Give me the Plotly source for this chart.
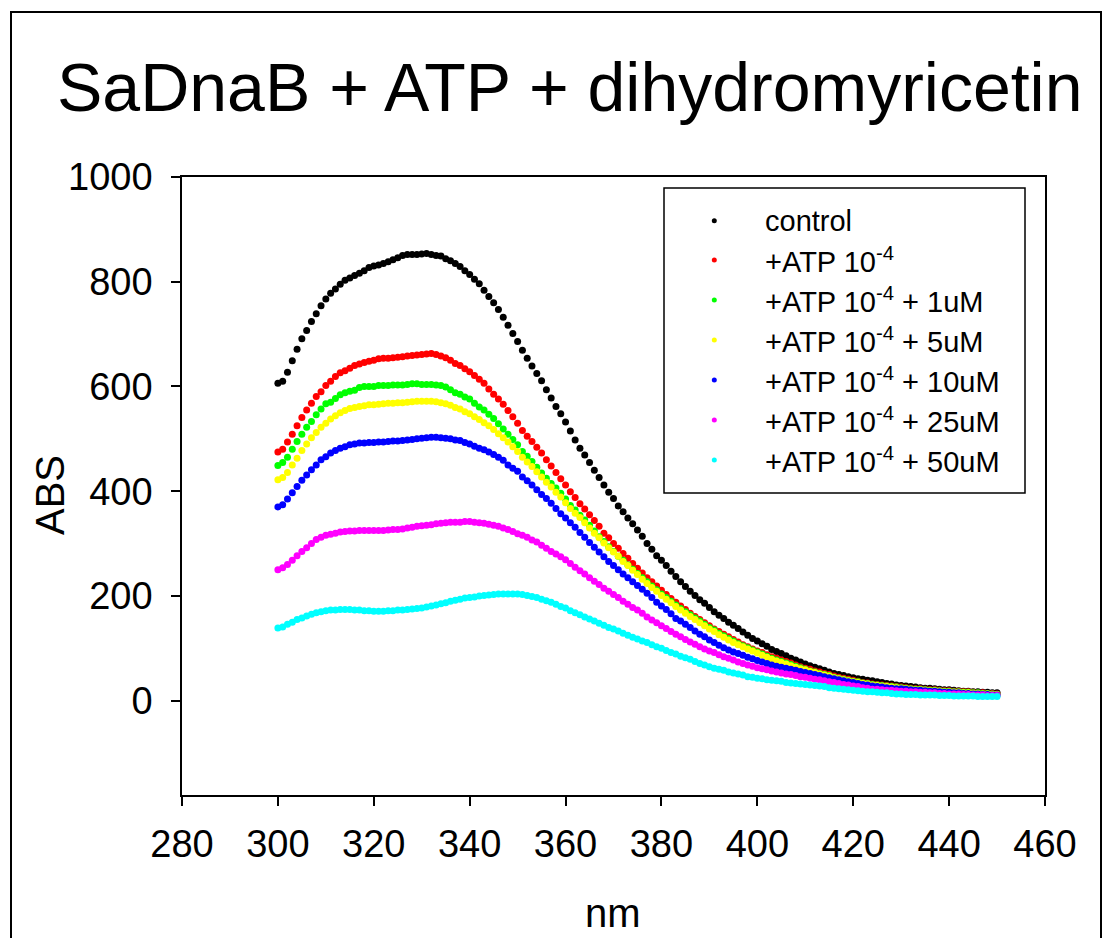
import plotly.graph_objects as go

# ---------------- data ----------------
wavelength = list(range(300, 451))

control = [
    606, 610, 627, 649, 671, 691, 707, 724, 739, 754,
    767, 778, 786, 795, 803, 807, 812, 816, 821, 827,
    830, 832, 835, 838, 842, 846, 850, 852, 852, 852,
    853, 854, 852, 850, 849, 844, 840, 835, 829, 821,
    814, 805, 796, 784, 772, 760, 747, 732, 717, 701,
    686, 669, 654, 639, 625, 611, 594, 578, 562, 548,
    532, 515, 498, 482, 469, 455, 440, 426, 412, 398,
    386, 372, 361, 349, 338, 326, 314, 300, 289, 277,
    268, 258, 247, 237, 227, 218, 209, 201, 193, 186,
    178, 170, 163, 157, 150, 144, 138, 131, 125, 119,
    114, 109, 104, 98, 94, 90, 86, 81, 78, 74,
    70, 67, 64, 61, 58, 55, 52, 50, 48, 46,
    44, 42, 41, 39, 38, 36, 35, 33, 32, 30,
    29, 28, 27, 26, 25, 24, 24, 23, 22, 21,
    21, 20, 19, 18, 18, 17, 17, 16, 16, 15,
    15]

atp = [
    475, 480, 494, 509, 525, 541, 555, 568, 581, 590,
    602, 610, 619, 626, 630, 635, 640, 643, 646, 648,
    650, 653, 654, 654, 655, 656, 657, 658, 659, 660,
    661, 662, 663, 661, 658, 655, 650, 644, 640, 634,
    628, 621, 614, 606, 595, 585, 576, 566, 554, 542,
    530, 516, 505, 495, 484, 473, 460, 448, 436, 424,
    412, 399, 388, 376, 366, 355, 344, 333, 320, 311,
    300, 291, 281, 272, 262, 253, 244, 235, 227, 219,
    211, 203, 195, 188, 181, 174, 167, 161, 155, 149,
    143, 137, 132, 127, 122, 117, 112, 107, 103, 99,
    95, 92, 88, 84, 81, 78, 75, 72, 68, 65,
    62, 60, 57, 55, 52, 50, 47, 45, 43, 41,
    39, 37, 35, 34, 32, 31, 30, 29, 28, 27,
    26, 25, 24, 23, 23, 22, 21, 21, 20, 19,
    19, 18, 18, 17, 17, 16, 15, 15, 14, 14,
    13]

atp_1uM = [
    449, 455, 465, 480, 495, 509, 522, 533, 546, 557,
    567, 570, 577, 584, 588, 591, 593, 598, 600, 600,
    600, 602, 602, 602, 603, 603, 603, 604, 605, 605,
    604, 604, 604, 603, 602, 599, 594, 588, 585, 580,
    576, 568, 561, 555, 547, 539, 529, 519, 509, 499,
    489, 476, 467, 457, 446, 435, 425, 415, 406, 396,
    385, 373, 364, 354, 345, 335, 324, 313, 304, 294,
    285, 276, 268, 259, 251, 243, 235, 227, 219, 212,
    204, 197, 190, 183, 176, 170, 164, 158, 152, 146,
    140, 135, 129, 124, 119, 114, 109, 105, 101, 97,
    93, 89, 85, 81, 78, 75, 72, 69, 66, 63,
    60, 57, 55, 52, 50, 48, 45, 43, 41, 39,
    37, 36, 34, 33, 31, 30, 29, 28, 27, 26,
    25, 24, 23, 22, 22, 21, 20, 20, 19, 18,
    18, 17, 17, 16, 16, 15, 15, 14, 14, 13,
    12]

atp_5uM = [
    422, 426, 436, 450, 463, 478, 490, 502, 512, 522,
    530, 538, 544, 550, 554, 558, 560, 562, 563, 565,
    565, 566, 567, 568, 568, 569, 569, 570, 571, 572,
    572, 572, 572, 571, 569, 567, 564, 560, 557, 552,
    548, 542, 537, 531, 525, 518, 510, 502, 494, 485,
    476, 465, 456, 447, 437, 427, 417, 408, 398, 389,
    378, 367, 358, 350, 340, 330, 320, 311, 301, 292,
    284, 276, 266, 258, 249, 241, 232, 224, 216, 209,
    201, 194, 187, 180, 173, 167, 161, 155, 149, 143,
    137, 132, 126, 121, 116, 111, 107, 103, 99, 95,
    91, 87, 83, 79, 76, 73, 70, 67, 64, 61,
    59, 56, 54, 51, 49, 47, 44, 42, 40, 38,
    36, 35, 33, 32, 30, 29, 28, 27, 26, 25,
    24, 23, 22, 21, 21, 20, 19, 19, 18, 17,
    17, 16, 16, 15, 15, 14, 14, 13, 13, 12,
    12]

atp_10uM = [
    370, 374, 385, 397, 409, 421, 431, 441, 450, 460,
    466, 473, 478, 482, 485, 489, 490, 492, 492, 493,
    493, 494, 494, 495, 496, 496, 497, 498, 499, 500,
    501, 502, 503, 503, 502, 501, 500, 498, 497, 493,
    490, 486, 482, 479, 475, 470, 465, 459, 450, 444,
    438, 427, 420, 412, 403, 394, 386, 377, 367, 357,
    349, 340, 331, 321, 312, 302, 293, 284, 275, 266,
    258, 250, 242, 235, 227, 220, 213, 205, 197, 188,
    181, 174, 166, 157, 152, 146, 140, 133, 127, 122,
    116, 111, 106, 101, 97, 93, 90, 87, 83, 80,
    77, 74, 71, 68, 66, 64, 62, 60, 58, 56,
    54, 52, 50, 48, 46, 44, 42, 40, 38, 36,
    35, 33, 31, 30, 28, 27, 26, 25, 24, 23,
    23, 22, 21, 20, 20, 19, 18, 18, 17, 16,
    16, 15, 15, 14, 14, 13, 13, 12, 12, 11,
    11]

atp_25uM = [
    250, 254, 260, 268, 277, 285, 292, 300, 308, 312,
    316, 318, 320, 322, 323, 324, 324, 325, 325, 325,
    325, 325, 325, 326, 327, 327, 328, 330, 331, 333,
    334, 335, 336, 338, 339, 340, 341, 341, 341, 342,
    342, 341, 340, 339, 337, 335, 333, 330, 327, 323,
    319, 316, 312, 307, 303, 297, 291, 285, 280, 275,
    269, 262, 255, 248, 242, 235, 228, 222, 215, 209,
    203, 197, 190, 184, 178, 173, 167, 160, 154, 149,
    143, 138, 132, 127, 122, 117, 112, 108, 103, 99,
    95, 92, 88, 84, 81, 78, 74, 71, 68, 66,
    63, 61, 59, 57, 55, 53, 51, 50, 48, 46,
    45, 43, 41, 40, 38, 36, 35, 33, 31, 30,
    28, 27, 25, 24, 22, 22, 21, 20, 20, 19,
    18, 18, 17, 17, 16, 16, 15, 15, 14, 14,
    13, 13, 13, 12, 12, 11, 11, 11, 10, 10,
    10]

atp_50uM = [
    139, 141, 146, 150, 155, 158, 162, 165, 168, 170,
    172, 173, 173, 174, 174, 174, 173, 173, 172, 172,
    171, 171, 171, 172, 172, 173, 173, 174, 175, 176,
    177, 179, 181, 183, 185, 187, 190, 192, 194, 196,
    197, 198, 200, 201, 202, 203, 204, 204, 204, 204,
    204, 203, 201, 199, 197, 194, 191, 188, 184, 180,
    177, 172, 168, 164, 160, 156, 152, 148, 144, 140,
    137, 133, 129, 125, 121, 118, 114, 111, 107, 103,
    100, 96, 92, 89, 85, 82, 79, 75, 71, 68,
    65, 62, 60, 58, 55, 53, 51, 49, 46, 45,
    43, 42, 40, 39, 38, 37, 35, 34, 33, 32,
    31, 30, 29, 28, 27, 25, 24, 23, 22, 21,
    20, 19, 18, 17, 17, 16, 15, 15, 14, 13,
    13, 12, 12, 12, 11, 11, 11, 11, 10, 10,
    10, 9, 9, 9, 9, 9, 8, 8, 8, 8,
    8]

series_names = [
    "control",
    "+ATP 10<sup>-4</sup>",
    "+ATP 10<sup>-4</sup> + 1uM",
    "+ATP 10<sup>-4</sup> + 5uM",
    "+ATP 10<sup>-4</sup> + 10uM",
    "+ATP 10<sup>-4</sup> + 25uM",
    "+ATP 10<sup>-4</sup> + 50uM",
]
series_values = [control, atp, atp_1uM, atp_5uM, atp_10uM, atp_25uM, atp_50uM]
series_colors = ["#000000", "#FF0000", "#00FF00", "#FFFF00", "#0000FF", "#FF00FF", "#00FFFF"]

x_ticks = [280, 300, 320, 340, 360, 380, 400, 420, 440, 460]
y_ticks = [0, 200, 400, 600, 800, 1000]

for s in series_values:
    if len(s) != len(wavelength):
        raise ValueError("length mismatch %d" % len(s))

# ---------------- figure ----------------
FONT = "Arial, 'Liberation Sans', Helvetica, sans-serif"
W, H = 1106, 938
L, R, T, B = 182, 61, 177, 143
PW, PH = W - L - R, H - T - B


def px(xp):
    return (xp - L) / PW


def py(yp):
    return (H - B - yp) / PH


fig = go.Figure()
for name, vals, col in zip(series_names, series_values, series_colors):
    fig.add_trace(go.Scatter(
        x=wavelength, y=vals, mode="markers", name=name,
        marker=dict(color=col, size=7, line=dict(width=0)),
        showlegend=False, hoverinfo="skip"))

# legend (manual, to match layout)
leg_rows_y = [220.7, 260, 300, 340, 380, 420, 460]
fig.add_trace(go.Scatter(
    x=[px(714.3)] * len(series_names), y=[py(v) for v in leg_rows_y],
    xaxis="x2", yaxis="y2", mode="markers",
    marker=dict(color=series_colors, size=5, line=dict(width=0)),
    showlegend=False, hoverinfo="skip"))

annotations = []
for name, yy in zip(series_names, leg_rows_y):
    annotations.append(dict(
        x=px(763), y=py(yy), xref="paper", yref="paper",
        text=name, showarrow=False, xanchor="left", yanchor="middle",
        font=dict(family=FONT, size=29, color="black")))

# title and axis titles
annotations.append(dict(
    x=px(570), y=py(87), xref="paper", yref="paper",
    text="SaDnaB + ATP + dihydromyricetin", showarrow=False,
    xanchor="center", yanchor="middle",
    font=dict(family=FONT, size=68, color="black")))
annotations.append(dict(
    x=px(50), y=py(495), xref="paper", yref="paper",
    text="ABS", showarrow=False, textangle=-90,
    xanchor="center", yanchor="middle",
    font=dict(family=FONT, size=40, color="black")))
annotations.append(dict(
    x=px(613), y=py(913), xref="paper", yref="paper",
    text="nm", showarrow=False,
    xanchor="center", yanchor="middle",
    font=dict(family=FONT, size=40, color="black")))

shapes = [
    # legend box
    dict(type="rect", xref="paper", yref="paper",
         x0=px(664), x1=px(1025), y0=py(493), y1=py(188),
         line=dict(color="black", width=1.5), fillcolor="rgba(0,0,0,0)", layer="below"),
    # outer frame
    dict(type="rect", xref="paper", yref="paper",
         x0=px(11), x1=px(1101), y0=py(960), y1=py(12),
         line=dict(color="black", width=2), fillcolor="rgba(0,0,0,0)"),
]

axis_common = dict(
    showgrid=False, zeroline=False, showline=True, mirror=True,
    linecolor="black", linewidth=1.5,
    ticks="outside", ticklen=9, tickwidth=1.5, tickcolor="black",
    tickfont=dict(family=FONT, size=38, color="black"),
)

fig.update_layout(
    width=W, height=H,
    margin=dict(l=L, r=R, t=T, b=B, pad=0),
    paper_bgcolor="white", plot_bgcolor="white",
    showlegend=False,
    xaxis=dict(range=[280, 460], tickvals=x_ticks, ticklabelstandoff=6, **axis_common),
    yaxis=dict(range=[-180, 1000], tickvals=y_ticks, ticklabelstandoff=11, **axis_common),
    xaxis2=dict(range=[0, 1], overlaying="x", visible=False),
    yaxis2=dict(range=[0, 1], overlaying="y", visible=False),
    annotations=annotations,
    shapes=shapes,
)

fig.write_html("out.html")
